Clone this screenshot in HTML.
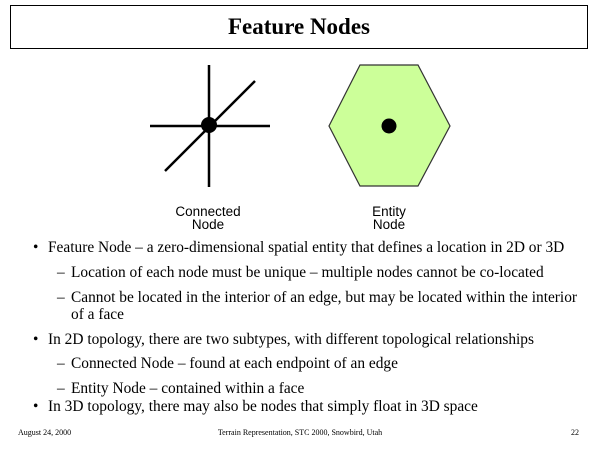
<!DOCTYPE html>
<html><head><meta charset="utf-8"><style>
body{margin:0;width:600px;height:450px;background:#fff;position:relative;overflow:hidden;font-family:"Liberation Serif",serif;color:#000}
.t{position:absolute;font-size:15.4px;line-height:18px;white-space:nowrap}
.f{position:absolute;top:428px;font-size:8px;line-height:10px;white-space:nowrap}
.lab{position:absolute;font-family:"Liberation Sans",sans-serif;font-size:13.5px;line-height:13px;text-align:center;width:120px}
</style></head><body>
<div style="position:absolute;left:10px;top:5px;width:576px;height:42px;border:1.5px solid #000;text-align:center;font-weight:bold;font-size:23px;line-height:42px">Feature Nodes</div>
<svg width="600" height="450" style="position:absolute;left:0;top:0">
<g stroke="#000" stroke-width="2.5"><line x1="209" y1="65" x2="209" y2="187"/><line x1="150" y1="126" x2="270" y2="126"/><line x1="165" y1="171" x2="255" y2="81"/></g>
<circle cx="209" cy="125" r="8"/>
<polygon points="360,65 418,65 450,126 418,186 360,186 329,126" fill="#ccff99" stroke="#333" stroke-width="1.2"/>
<circle cx="389" cy="126" r="7.5"/>
</svg>
<div class="lab" style="left:148px;top:205px">Connected<br>Node</div>
<div class="lab" style="left:329px;top:205px">Entity<br>Node</div>
<div class="t" style="left:33px;top:239px">•</div><div class="t" style="left:48px;top:239px">Feature Node – a zero-dimensional spatial entity that defines a location in 2D or 3D</div>
<div class="t" style="left:57px;top:264px">–</div><div class="t" style="left:71px;top:264px">Location of each node must be unique – multiple nodes cannot be co-located</div>
<div class="t" style="left:57px;top:289px">–</div><div class="t" style="left:71px;top:289px">Cannot be located in the interior of an edge, but may be located within the interior</div>
<div class="t" style="left:71px;top:306px">of a face</div>
<div class="t" style="left:33px;top:331px">•</div><div class="t" style="left:48px;top:331px">In 2D topology, there are two subtypes, with different topological relationships</div>
<div class="t" style="left:57px;top:355px">–</div><div class="t" style="left:71px;top:355px">Connected Node – found at each endpoint of an edge</div>
<div class="t" style="left:57px;top:380px">–</div><div class="t" style="left:71px;top:380px">Entity Node – contained within a face</div>
<div class="t" style="left:33px;top:398px">•</div><div class="t" style="left:48px;top:398px">In 3D topology, there may also be nodes that simply float in 3D space</div>
<div class="f" style="left:18px">August 24, 2000</div>
<div class="f" style="left:0;width:600px;text-align:center">Terrain Representation, STC 2000, Snowbird, Utah</div>
<div class="f" style="left:571px">22</div>
</body></html>
